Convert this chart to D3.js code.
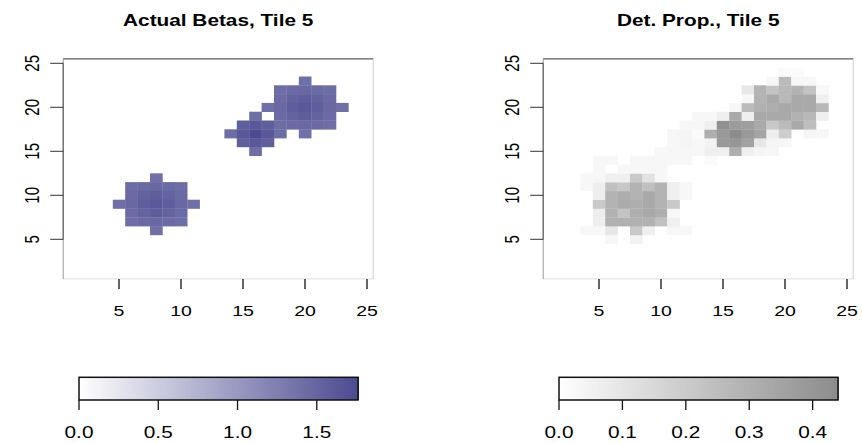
<!DOCTYPE html>
<html>
<head>
<meta charset="utf-8">
<script src="https://cdn.jsdelivr.net/npm/d3@7"></script>
<style>
  body { margin: 0; background: #fff; }
  text { font-family: "Liberation Sans", Arial, sans-serif; fill: #000; }
</style>
</head>
<body>
<svg id="chart" width="862" height="443"></svg>
<script>
const titles = ["Actual Betas, Tile 5", "Det. Prop., Tile 5"]
const xTicks = [5, 10, 15, 20, 25]
const yTicks = [5, 10, 15, 20, 25]
const betaTicks = [0, 0.5, 1.0, 1.5]
const propTicks = [0, 0.1, 0.2, 0.3, 0.4]
const betaMax = 1.76
const propMax = 0.44

// [x, y, beta] for the non-zero cells of the left panel
const betaCells = [
  [8,12,1.40],
  [6,11,1.42],[7,11,1.46],[8,11,1.48],[9,11,1.46],[10,11,1.42],
  [6,10,1.46],[7,10,1.53],[8,10,1.57],[9,10,1.53],[10,10,1.46],
  [5,9,1.40],[6,9,1.48],[7,9,1.57],[8,9,1.62],[9,9,1.57],[10,9,1.48],[11,9,1.40],
  [6,8,1.46],[7,8,1.53],[8,8,1.57],[9,8,1.53],[10,8,1.46],
  [6,7,1.42],[7,7,1.46],[8,7,1.48],[9,7,1.46],[10,7,1.42],
  [8,6,1.40],

  [16,19,1.42],
  [15,18,1.56],[16,18,1.62],[17,18,1.56],
  [14,17,1.42],[15,17,1.62],[16,17,1.76],[17,17,1.62],[18,17,1.42],
  [15,16,1.56],[16,16,1.62],[17,16,1.56],
  [16,15,1.42],

  [20,23,1.40],
  [18,22,1.42],[19,22,1.46],[20,22,1.48],[21,22,1.46],[22,22,1.42],
  [18,21,1.46],[19,21,1.53],[20,21,1.57],[21,21,1.53],[22,21,1.46],
  [17,20,1.40],[18,20,1.48],[19,20,1.57],[20,20,1.62],[21,20,1.57],[22,20,1.48],[23,20,1.40],
  [18,19,1.46],[19,19,1.53],[20,19,1.57],[21,19,1.53],[22,19,1.46],
  [18,18,1.42],[19,18,1.46],[20,18,1.48],[21,18,1.46],[22,18,1.42],
  [20,17,1.40]
]

// [x, y, proportion] for the non-zero cells of the right panel
const propCells = [
  [6,5,0.03],[8,5,0.05],
  [4,6,0.03],[5,6,0.03],[6,6,0.09],[8,6,0.21],[9,6,0.06],[11,6,0.03],[12,6,0.03],
  [5,7,0.06],[6,7,0.30],[7,7,0.30],[8,7,0.30],[9,7,0.30],[10,7,0.24],[11,7,0.06],
  [5,8,0.07],[6,8,0.30],[7,8,0.23],[8,8,0.31],[9,8,0.33],[10,8,0.31],[11,8,0.03],
  [5,9,0.21],[6,9,0.29],[7,9,0.32],[8,9,0.31],[9,9,0.33],[10,9,0.29],[11,9,0.21],
  [5,10,0.07],[6,10,0.29],[7,10,0.31],[8,10,0.29],[9,10,0.33],[10,10,0.29],[11,10,0.06],[12,10,0.03],
  [4,11,0.03],[5,11,0.07],[6,11,0.24],[7,11,0.21],[8,11,0.29],[9,11,0.24],[10,11,0.29],[11,11,0.06],[12,11,0.03],
  [4,12,0.03],[5,12,0.03],[6,12,0.06],[7,12,0.06],[8,12,0.21],[9,12,0.11],[10,12,0.03],
  [5,13,0.03],[7,13,0.03],[8,13,0.03],[9,13,0.03],[10,13,0.03],
  [5,14,0.03],[6,14,0.03],[8,14,0.03],[9,14,0.03],[10,14,0.03],[11,14,0.03],[12,14,0.03],[14,14,0.02],
  [10,15,0.03],[11,15,0.03],[12,15,0.03],[13,15,0.03],[14,15,0.06],[15,15,0.06],[16,15,0.31],[17,15,0.06],[18,15,0.04],[19,15,0.03],
  [11,16,0.03],[12,16,0.04],[13,16,0.03],[14,16,0.05],[15,16,0.39],[16,16,0.40],[17,16,0.36],[18,16,0.09],[19,16,0.04],[20,16,0.03],
  [11,17,0.03],[12,17,0.04],[13,17,0.02],[14,17,0.31],[15,17,0.39],[16,17,0.44],[17,17,0.39],[18,17,0.35],[19,17,0.07],[20,17,0.19],[22,17,0.04],[23,17,0.03],
  [12,18,0.03],[13,18,0.03],[14,18,0.06],[15,18,0.42],[16,18,0.38],[17,18,0.37],[18,18,0.33],[19,18,0.21],[20,18,0.26],[21,18,0.33],[22,18,0.25],
  [13,19,0.03],[14,19,0.03],[15,19,0.06],[16,19,0.33],[17,19,0.06],[18,19,0.33],[19,19,0.33],[20,19,0.33],[21,19,0.30],[22,19,0.27],[23,19,0.06],
  [16,20,0.03],[17,20,0.26],[18,20,0.30],[19,20,0.31],[20,20,0.33],[21,20,0.33],[22,20,0.33],[23,20,0.27],
  [17,21,0.03],[18,21,0.29],[19,21,0.33],[20,21,0.27],[21,21,0.33],[22,21,0.33],[23,21,0.06],
  [17,22,0.09],[18,22,0.29],[19,22,0.23],[20,22,0.27],[21,22,0.29],[22,22,0.23],[23,22,0.03],
  [19,23,0.03],[20,23,0.26],[21,23,0.03],[22,23,0.03],
  [20,24,0.02],[21,24,0.02]
]

const stretch = 1.3   // the original picture is wider than it is tall
const svg = d3.select("#chart")

function stretchedText(g, x, y, txt, size, opts) {
  opts = opts || {}
  let t = `translate(${x},${y}) scale(${stretch},1)`
  if (opts.rotate) t += " rotate(-90)"
  g.append("text")
    .attr("transform", t)
    .attr("text-anchor", "middle")
    .style("font-size", size + "px")
    .style("font-weight", opts.bold ? "bold" : "normal")
    .text(txt)
}

function drawPanel(left, cells, color, title) {
  const g = svg.append("g")
  const x = d3.scaleLinear().domain([0.5, 25.5]).range([left, left + 310])
  const y = d3.scaleLinear().domain([0.5, 25.5]).range([278.9, 58.9])

  g.append("g").selectAll("rect")
    .data(cells)
    .enter().append("rect")
    .attr("x", d => x(d[0] - 0.5))
    .attr("y", d => y(d[1] + 0.5))
    .attr("width", d => x(d[0] + 0.5) - x(d[0] - 0.5) + 0.3)
    .attr("height", d => y(d[1] - 0.5) - y(d[1] + 0.5) + 0.3)
    .attr("fill", d => color(d[2]))

  // box, drawn edge by edge like the faded borders of the original
  const x0 = x(0.5), x1 = x(25.5), y0 = y(25.5), y1 = y(0.5)
  g.append("line").attr("x1", x0).attr("x2", x1).attr("y1", y0).attr("y2", y0).attr("stroke", "#333")
  g.append("line").attr("x1", x1).attr("x2", x1).attr("y1", y0).attr("y2", y1).attr("stroke", "#ccc")
  g.append("line").attr("x1", x0).attr("x2", x1).attr("y1", y1).attr("y2", y1).attr("stroke", "#ddd")
  g.append("line").attr("x1", x0).attr("x2", x0).attr("y1", y0).attr("y2", y1).attr("stroke", "#999")
  g.append("line").attr("x1", x0).attr("x2", x0).attr("y1", y(25)).attr("y2", y(5)).attr("stroke", "#555")

  g.append("g").selectAll("line")
    .data(xTicks)
    .enter().append("line")
    .attr("x1", d => x(d)).attr("x2", d => x(d))
    .attr("y1", y1).attr("y2", y1 + 10)
    .attr("stroke", "#111").attr("stroke-width", 1.3)

  g.append("g").selectAll("line")
    .data(yTicks)
    .enter().append("line")
    .attr("x1", x0 - 13).attr("x2", x0)
    .attr("y1", d => y(d)).attr("y2", d => y(d))
    .attr("stroke", "#333")

  xTicks.forEach(d => stretchedText(g, x(d), 316, d, 15))
  yTicks.forEach(d => stretchedText(g, x0 - 24, y(d), d, 15, { rotate: true }))

  stretchedText(g, (x0 + x1) / 2, 26, title, 16, { bold: true })
}

function drawColorbar(left, right, color, max, ticks) {
  const g = svg.append("g")
  const x = d3.scaleLinear().domain([0, max]).range([left, right])
  const top = 377.3, bottom = 400
  const steps = d3.range(0, 140).map(i => i / 140 * max)
  const w = (right - left) / 140

  g.append("g").selectAll("rect")
    .data(steps)
    .enter().append("rect")
    .attr("x", d => x(d))
    .attr("y", top)
    .attr("width", w + 1)
    .attr("height", bottom - top)
    .attr("shape-rendering", "crispEdges")
    .attr("fill", d => color(d + max / 280))

  g.append("rect")
    .attr("x", left).attr("y", top)
    .attr("width", right - left).attr("height", bottom - top)
    .attr("fill", "none").attr("stroke", "#111").attr("stroke-width", 1.5)

  g.append("g").selectAll("line")
    .data(ticks)
    .enter().append("line")
    .attr("x1", d => x(d)).attr("x2", d => x(d))
    .attr("y1", bottom).attr("y2", bottom + 10)
    .attr("stroke", "#111").attr("stroke-width", 1.3)

  ticks.forEach(d => stretchedText(g, x(d), 438, d3.format(".1f")(d), 16))
}

const betaColor = d3.scaleLinear().domain([0, betaMax]).range(["#ffffff", "#4b4b91"])
const propColor = d3.scaleLinear().domain([0, propMax]).range(["#ffffff", "#8c8c8c"])

drawPanel(63.2, betaCells, betaColor, titles[0])
drawPanel(543.2, propCells, propColor, titles[1])
drawColorbar(79, 358, betaColor, betaMax, betaTicks)
drawColorbar(559, 838, propColor, propMax, propTicks)
</script>
</body>
</html>
